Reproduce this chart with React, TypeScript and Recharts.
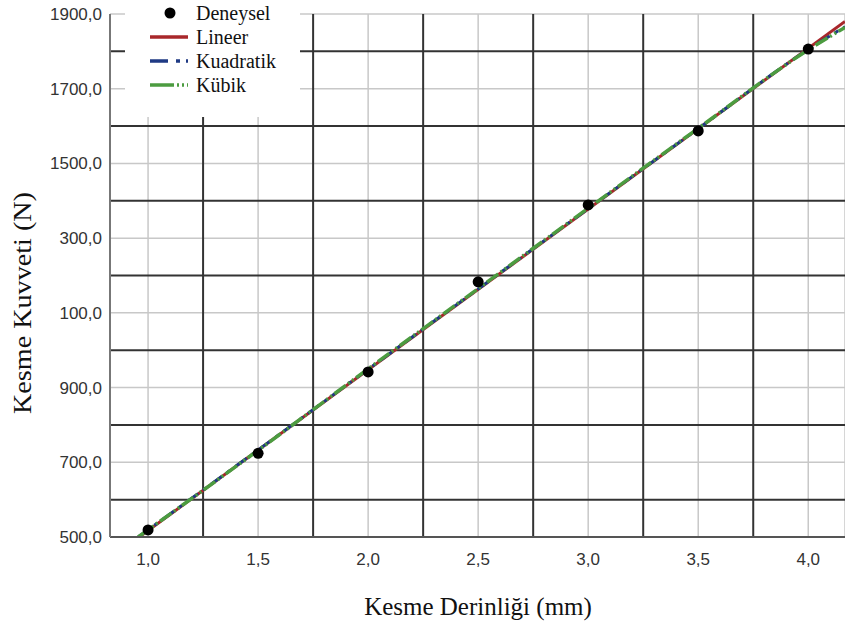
import React from 'react';
import {
  ComposedChart,
  XAxis,
  YAxis,
  CartesianGrid,
  ReferenceLine,
  Line,
  Scatter,
  Legend,
} from 'recharts';

// ---- data ----
const xTicks = [1, 1.5, 2, 2.5, 3, 3.5, 4];
const xTickLabels = ['1,0', '1,5', '2,0', '2,5', '3,0', '3,5', '4,0'];
const yTicks = [500, 700, 900, 1100, 1300, 1500, 1700, 1900];
const yTickLabels = ['500,0', '700,0', '900,0', '100,0', '300,0', '1500,0', '1700,0', '1900,0'];
const xMajorGrid = [1.25, 1.75, 2.25, 2.75, 3.25, 3.75];
const yMajorGrid = [600, 800, 1000, 1200, 1400, 1600, 1800];

const deneyselX = [1, 1.5, 2, 2.5, 3, 3.5, 4];
const deneyselY = [519, 724, 942, 1183, 1389, 1587, 1806];

const lineerX = [0.96, 4.167];
const lineerY = [500, 1880];

const kuadratikX = [0.955, 1.5, 2, 2.5, 3, 3.5, 4, 4.167];
const kuadratikY = [500, 733, 949, 1164, 1379, 1593, 1805, 1866];

const kubikX = [0.955, 1.5, 2, 2.5, 3, 3.5, 4, 4.167];
const kubikY = [500, 732, 950, 1165, 1380, 1594, 1804, 1864];

const zip = (xs: number[], ys: number[]) => xs.map((x, i) => ({ x, y: ys[i] }));

const deneyselData = zip(deneyselX, deneyselY);
const lineerData = zip(lineerX, lineerY);
const kuadratikData = zip(kuadratikX, kuadratikY);
const kubikData = zip(kubikX, kubikY);

const RED = '#a8272b';
const BLUE = '#1f3a84';
const GREEN = '#4c9c40';
const KUAD_DASH = '14 6 4 6';
const KUB_DASH = '14 3 2 3 2 3';

const SERIF = '"Liberation Serif", "Times New Roman", serif';

const legendItems = [
  { name: 'Deneysel', kind: 'dot' },
  { name: 'Lineer', kind: 'line', color: RED, dash: undefined },
  { name: 'Kuadratik', kind: 'line', color: BLUE, dash: '18 8 4 6' },
  { name: 'Kübik', kind: 'line', color: GREEN, dash: '24 3 2 3 2 3' },
];

const renderLegend = () => (
  <div style={{ position: 'relative', width: 175, height: 117, background: '#fff' }}>
    {legendItems.map((it, i) => {
      const cy = 13 + i * 24;
      return (
        <React.Fragment key={it.name}>
          <svg
            width={44}
            height={12}
            style={{ position: 'absolute', left: 22, top: cy - 6, display: 'block', overflow: 'visible' }}
          >
            {it.kind === 'dot' ? (
              <circle cx={23} cy={6} r={5.5} fill="#000" />
            ) : (
              <line
                x1={3}
                x2={41}
                y1={6}
                y2={6}
                stroke={it.color}
                strokeWidth={3.5}
                strokeDasharray={it.dash}
              />
            )}
          </svg>
          <span
            style={{
              position: 'absolute',
              left: 71,
              top: cy - 12,
              lineHeight: '24px',
              fontFamily: SERIF,
              fontSize: 20,
              color: '#111',
              whiteSpace: 'nowrap',
            }}
          >
            {it.name}
          </span>
        </React.Fragment>
      );
    })}
  </div>
);

const tickStyle = {
  fontFamily: '"Liberation Sans", Arial, sans-serif',
  fontSize: 17,
  fill: '#333',
};

export default function App() {
  return (
    <div style={{ position: 'absolute', left: 0, top: 0, width: 845, height: 626, background: '#fff' }}>
      <ComposedChart
        width={845}
        height={626}
        margin={{ top: 14, right: 0, bottom: 0, left: 0 }}
      >
        <CartesianGrid stroke="#c8c8c8" strokeWidth={1.5} />
        <XAxis
          type="number"
          dataKey="x"
          domain={[0.827, 4.167]}
          ticks={xTicks}
          allowDataOverflow
          height={89}
          tickSize={0}
          tickMargin={16}
          tickFormatter={(v: number) => xTickLabels[xTicks.indexOf(v)] ?? String(v)}
          tick={tickStyle}
          axisLine={{ stroke: '#555', strokeWidth: 2 }}
          label={{
            content: () => (
              <text
                x={478}
                y={615}
                textAnchor="middle"
                style={{ fontFamily: SERIF, fontSize: 25, fill: '#111' }}
              >
                Kesme Derinliği (mm)
              </text>
            ),
          }}
        />
        <YAxis
          type="number"
          domain={[500, 1900]}
          ticks={yTicks}
          allowDataOverflow
          width={110}
          tickSize={0}
          tickMargin={8}
          tickFormatter={(v: number) => yTickLabels[yTicks.indexOf(v)] ?? String(v)}
          tick={tickStyle}
          axisLine={{ stroke: '#777', strokeWidth: 2 }}
          label={{
            content: () => (
              <text
                x={31}
                y={303}
                transform="rotate(-90 31 303)"
                textAnchor="middle"
                textLength={222}
                lengthAdjust="spacingAndGlyphs"
                style={{ fontFamily: SERIF, fontSize: 26, fill: '#111' }}
              >
                Kesme Kuvveti (N)
              </text>
            ),
          }}
        />
        {xMajorGrid.map((v) => (
          <ReferenceLine key={'vx' + v} x={v} stroke="#333" strokeWidth={2} />
        ))}
        {yMajorGrid.map((v) => (
          <ReferenceLine key={'hy' + v} y={v} stroke="#333" strokeWidth={2} />
        ))}
        <Legend
          layout="vertical"
          align="center"
          verticalAlign="middle"
          wrapperStyle={{ position: 'absolute', left: 125, top: 0, width: 175, height: 117 }}
          content={renderLegend}
        />
        <Scatter
          name="Deneysel"
          data={deneyselData}
          dataKey="y"
          fill="#000"
          isAnimationActive={false}
          shape={(p: any) => <circle cx={p.cx} cy={p.cy} r={5.5} fill="#000" />}
        />
        <Line
          name="Lineer"
          data={lineerData}
          dataKey="y"
          type="linear"
          stroke={RED}
          strokeWidth={3}
          dot={false}
          activeDot={false}
          isAnimationActive={false}
        />
        <Line
          name="Kuadratik"
          data={kuadratikData}
          dataKey="y"
          type="monotone"
          stroke={BLUE}
          strokeWidth={3}
          strokeDasharray={KUAD_DASH}
          dot={false}
          activeDot={false}
          isAnimationActive={false}
        />
        <Line
          name="Kübik"
          data={kubikData}
          dataKey="y"
          type="monotone"
          stroke={GREEN}
          strokeWidth={3.5}
          strokeDasharray={KUB_DASH}
          dot={false}
          activeDot={false}
          isAnimationActive={false}
        />
      </ComposedChart>
    </div>
  );
}
